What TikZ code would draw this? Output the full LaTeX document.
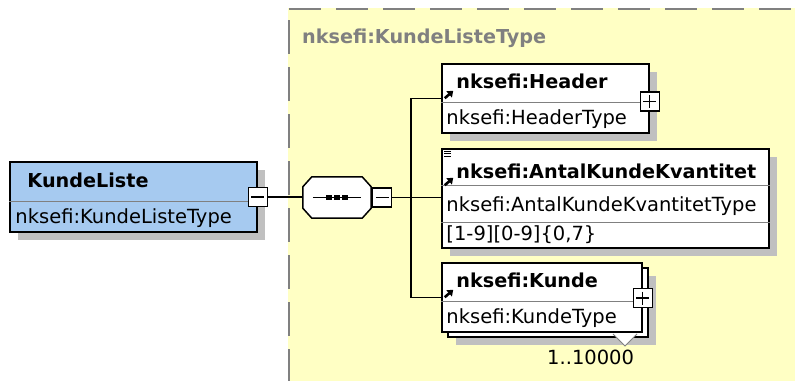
\documentclass[tikz,border=0pt]{standalone}
\usepackage{fontspec}
\setmainfont{DejaVu Sans}
\usepackage{tikz}
\usetikzlibrary{arrows.meta}
\usetikzlibrary{calc}
\usetikzlibrary{positioning}
\usetikzlibrary{shadows}

\definecolor{schemayellow}{RGB}{255,255,196}
\definecolor{elemblue}{RGB}{166,202,240}
\definecolor{shadowgray}{RGB}{192,192,192}
\definecolor{framegray}{RGB}{128,128,128}

\begin{document}
\begin{tikzpicture}[x=1pt,y=-1pt,
    font=\fontsize{19.5}{23}\selectfont,
    elembox/.style={draw,line width=1.5pt,rectangle,inner sep=0pt,fill=white},
    elem/.style={elembox,drop shadow={shadow xshift=8pt,shadow yshift=-8pt,fill=shadowgray,opacity=1}},
    togglebox/.style={draw,line width=1.2pt,rectangle,fill=white,minimum size=19pt,inner sep=0pt},
    togglemin/.style={togglebox,path picture={
      \draw[line width=1.3pt] ([xshift=3pt]path picture bounding box.west) -- ([xshift=-3pt]path picture bounding box.east);}},
    toggleplus/.style={togglebox,path picture={
      \draw[line width=1.3pt] ([xshift=3pt]path picture bounding box.west) -- ([xshift=-3pt]path picture bounding box.east);
      \draw[line width=1.3pt] ([yshift=-3pt]path picture bounding box.north) -- ([yshift=3pt]path picture bounding box.south);}},
    elemname/.style={anchor=base west,inner sep=0pt,font=\fontsize{19.2}{23}\selectfont\bfseries},
    elemtype/.style={anchor=base west,inner sep=0pt},
    divider/.style={draw=framegray,line width=0.9pt},
    conn/.style={draw,line width=1.4pt},
    refarrow/.style={line width=2.6pt,-{Triangle[length=5.5pt,width=8pt]}}]

  \useasboundingbox (0,0) rectangle (795,381);

  % complex type area
  \fill[schemayellow] (288,8) rectangle (795,381);
  \draw[framegray,line width=1.5pt,dash pattern=on 32pt off 15pt] (289,9) -- (795,9);
  \draw[framegray,line width=1.5pt,dash pattern=on 34pt off 13pt] (289,20) -- (289,381);
  \node[elemname,text=framegray] (cplxname) at (302,43) {nksefi:KundeListeType};

  % root element
  \node[elem,fill=elemblue,minimum width=247pt,minimum height=70pt] (kl) at (133.5,197) {};
  \draw[divider] ([yshift=-40pt]kl.north west) -- ([yshift=-40pt]kl.north east);
  \node[elemname] (klname) at ([shift={(18,26)}]kl.north west) {KundeListe};
  \node[elemtype] (kltype) at ([shift={(6,62)}]kl.north west) {nksefi:KundeListeType};
  \node[togglemin] (klminus) at (kl.east) {};

  % sequence
  \node[minimum width=68pt,minimum height=41pt,inner sep=0pt] (seq) at (337,197.5) {};
  \draw[line width=1.5pt,fill=white]
    ([xshift=9pt]seq.north west) -- ([xshift=-9pt]seq.north east)
    -- ([yshift=-10pt]seq.north east) -- ([yshift=10pt]seq.south east)
    -- ([xshift=-9pt]seq.south east) -- ([xshift=9pt]seq.south west)
    -- ([yshift=10pt]seq.south west) -- ([yshift=-10pt]seq.north west) -- cycle;
  \draw[line width=1.3pt] ([xshift=10pt]seq.west) -- ([xshift=-10pt]seq.east);
  \foreach \dx in {-8,0,8}
    \fill ([xshift=\dx pt]seq.center) +(-2.7,-2.7) rectangle +(2.7,2.7);
  \node[togglemin,right=1pt of seq] (seqminus) {};

  % child elements
  \node[elem,minimum width=207pt,minimum height=69pt] (header) at (545.5,98.5) {};
  \draw[divider] ([yshift=-39pt]header.north west) -- ([yshift=-39pt]header.north east);
  \node[elemname] (headername) at ([shift={(15,25)}]header.north west) {nksefi:Header};
  \node[elemtype] (headertype) at ([shift={(5,61)}]header.north west) {nksefi:HeaderType};
  \draw[refarrow] ([shift={(3.5,35)}]header.north west) -- ++(8.5,-7.5);
  \node[toggleplus] (headerplus) at ([yshift=-3pt]header.east) {};

  \node[elem,minimum width=327pt,minimum height=99pt] (antal) at (605.5,198.5) {};
  \draw[divider] ([yshift=-37pt]antal.north west) -- ([yshift=-37pt]antal.north east);
  \draw[divider] ([yshift=-74pt]antal.north west) -- ([yshift=-74pt]antal.north east);
  \node[elemname] (antalname) at ([shift={(15,30)}]antal.north west) {nksefi:AntalKundeKvantitet};
  \node[elemtype] (antaltype) at ([shift={(5,63)}]antal.north west) {nksefi:AntalKundeKvantitetType};
  \node[elemtype] (antalfacet) at ([shift={(5,92)}]antal.north west) {[1-9][0-9]\{0,7\}};
  \draw[refarrow] ([shift={(3.5,37)}]antal.north west) -- ++(8.5,-7.5);
  \foreach \dy in {3,5.5,8}
    \draw[line width=1pt] ([shift={(3,\dy)}]antal.north west) -- ++(7,0);

  \node[elem,minimum width=200pt,minimum height=69pt] (kundeback) at (548,302.5) {};
  \node[elembox,minimum width=200pt,minimum height=69pt] (kunde) at (542,297.5) {};
  \draw[divider] ([yshift=-39pt]kunde.north west) -- ([yshift=-39pt]kunde.north east);
  \node[elemname] (kundename) at ([shift={(15,25)}]kunde.north west) {nksefi:Kunde};
  \node[elemtype] (kundetype) at ([shift={(5,61)}]kunde.north west) {nksefi:KundeType};
  \draw[refarrow] ([shift={(3.5,35)}]kunde.north west) -- ++(8.5,-7.5);
  \node[toggleplus] (kundeplus) at ([yshift=-0.5pt]kunde.east) {};
  \draw[framegray,line width=0.9pt,fill=white] (613,334) -- (625,346) -- (637,334);
  \node[elemtype] (kundeocc) at (547,364) {1..10000};

  % connectors
  \coordinate (trunk) at (411,198);
  \draw[conn] (klminus.east) -- (klminus.east -| seq.west);
  \draw[conn] (seqminus.east) -- (seqminus.east -| antal.west);
  \draw[conn] (header.west) -| (trunk) |- (kunde.west);

\end{tikzpicture}
\end{document}
